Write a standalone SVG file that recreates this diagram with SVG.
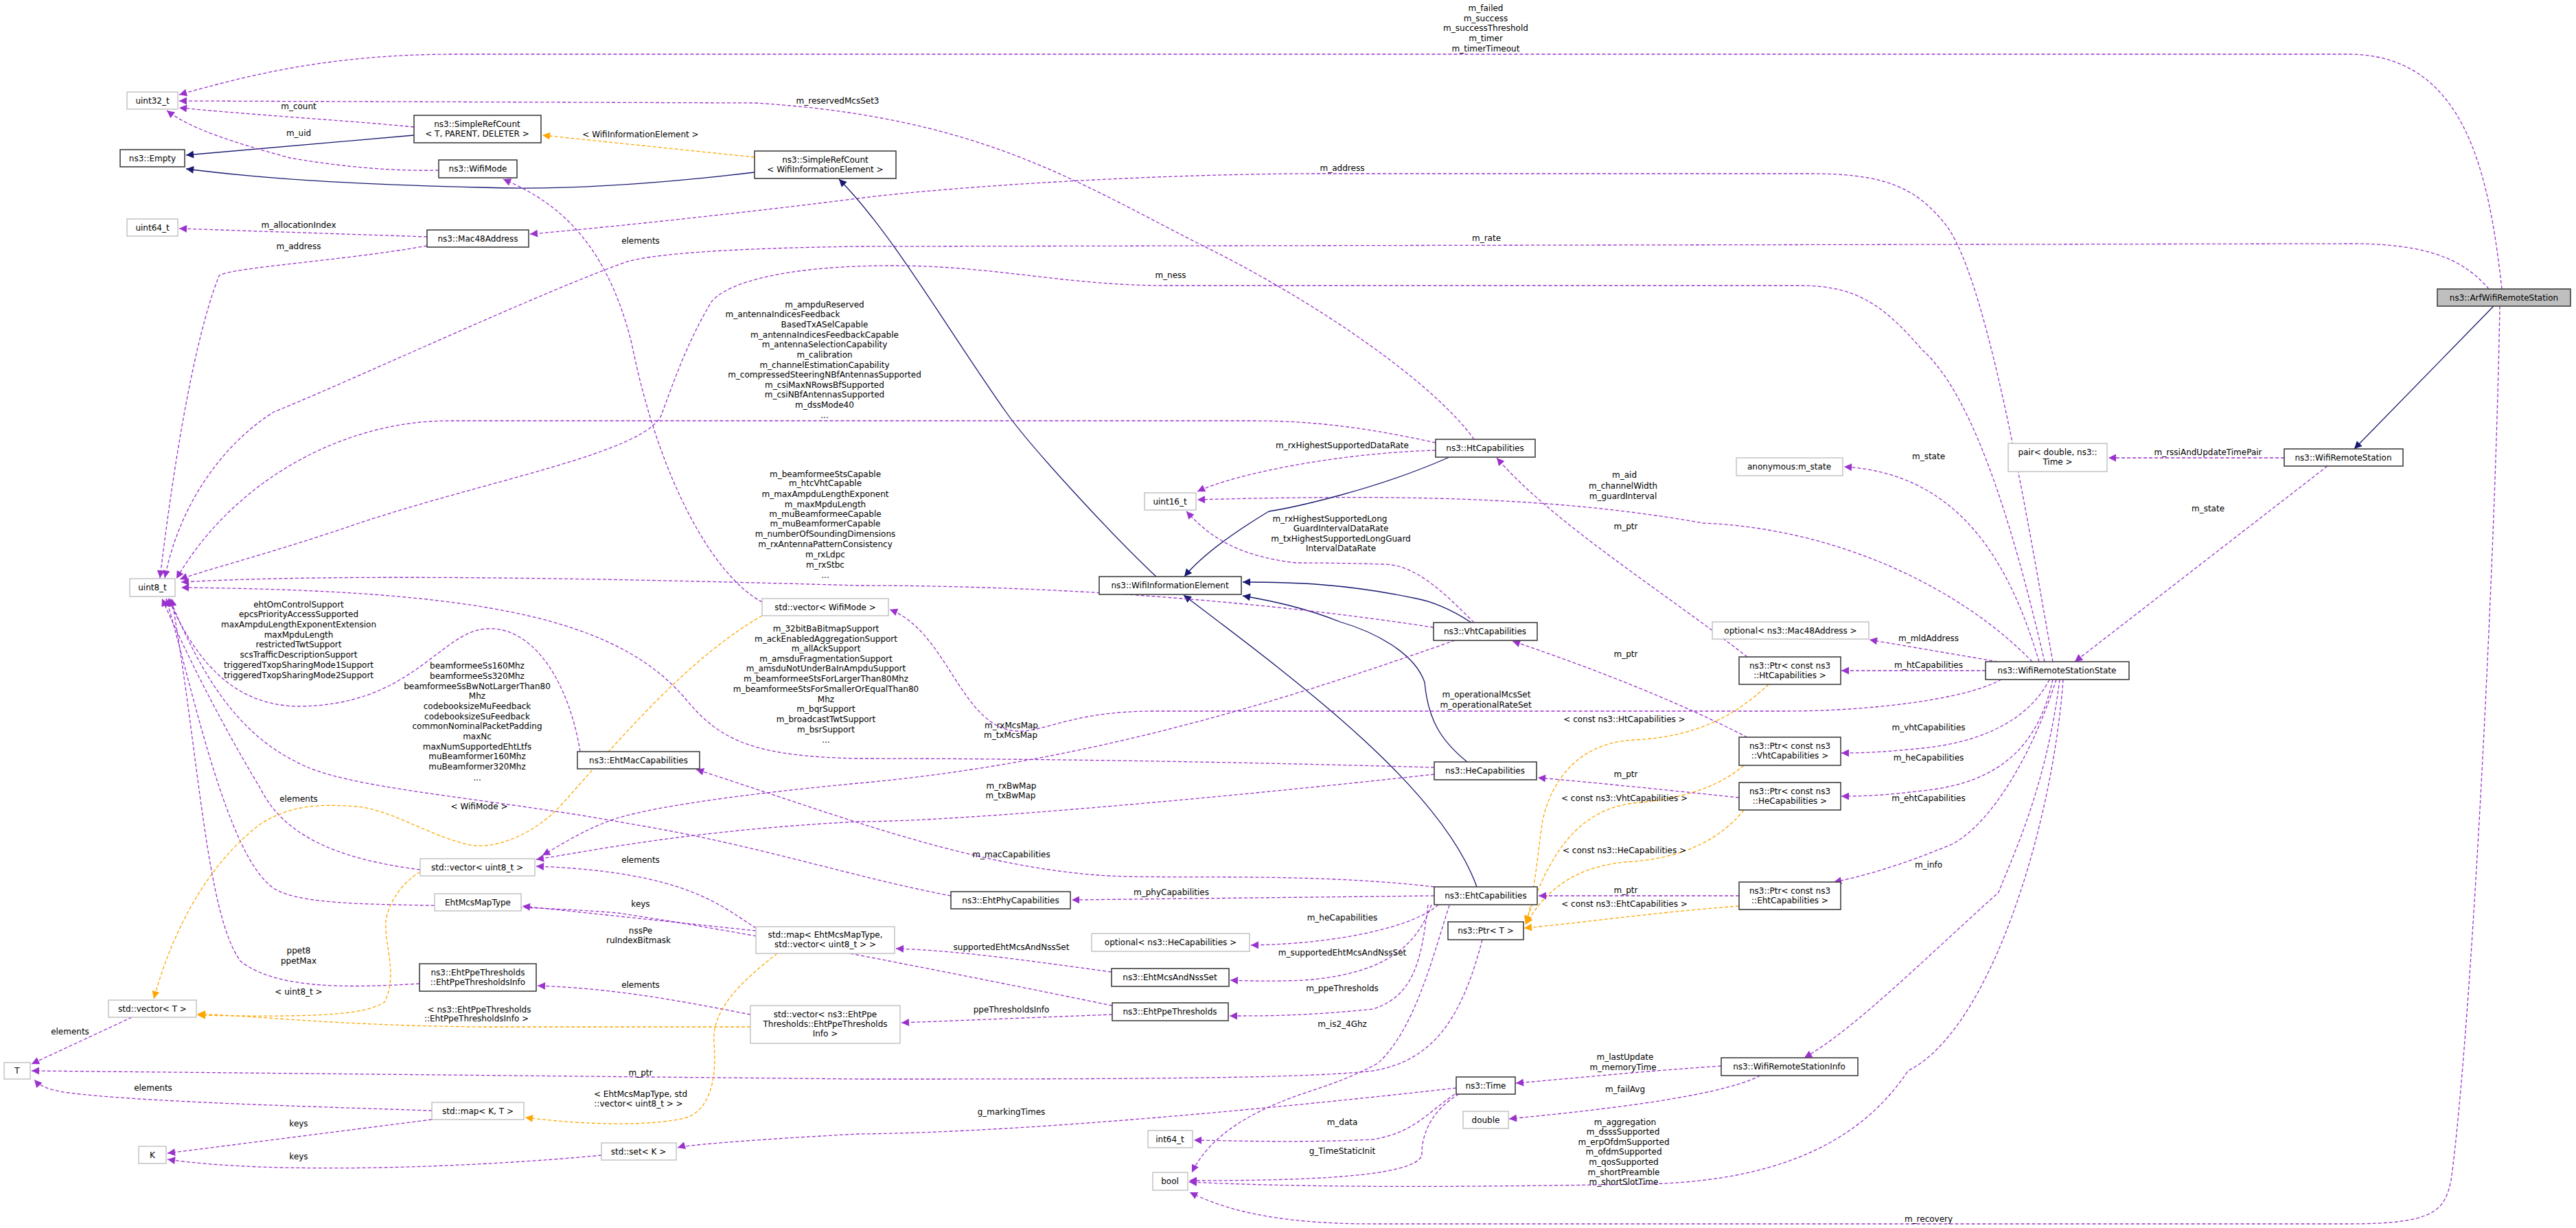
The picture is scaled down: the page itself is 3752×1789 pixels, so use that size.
<svg xmlns="http://www.w3.org/2000/svg" width="3752" height="1789" viewBox="0 0 3752 1789">
<style>
text{font-family:"DejaVu Sans","Liberation Sans",sans-serif;font-size:12px;fill:#000;text-anchor:middle}
.d rect{fill:#fff;stroke:#404040;stroke-width:1.6}
.u rect{fill:#fff;stroke:#bfbfbf;stroke-width:1.4}
.t rect{fill:#bfbfbf;stroke:#404040;stroke-width:1.6}
.e{fill:none;stroke:#9a32cd;stroke-width:1.3;stroke-dasharray:5,3;marker-end:url(#ap)}
.n{fill:none;stroke:#191970;stroke-width:1.3;marker-end:url(#an)}
.o{fill:none;stroke:#ffa500;stroke-width:1.3;stroke-dasharray:5,3;marker-end:url(#ao)}
</style>
<defs>
<marker id="ap" viewBox="0 0 10 10" refX="10" refY="5" markerWidth="13" markerHeight="11" markerUnits="userSpaceOnUse" orient="auto"><path d="M0,0 L10,5 L0,10 z" fill="#9a32cd"/></marker>
<marker id="an" viewBox="0 0 10 10" refX="10" refY="5" markerWidth="13" markerHeight="11" markerUnits="userSpaceOnUse" orient="auto"><path d="M0,0 L10,5 L0,10 z" fill="#191970"/></marker>
<marker id="ao" viewBox="0 0 10 10" refX="10" refY="5" markerWidth="13" markerHeight="11" markerUnits="userSpaceOnUse" orient="auto"><path d="M0,0 L10,5 L0,10 z" fill="#ffa500"/></marker>
</defs>
<rect width="3752" height="1789" fill="#fff"/>
<g id="connectors">
<path class="e" d="M3644,421 C3625,250 3590,79 3420,79 L662,79 C480,79 360,110 261,138"/>
<path class="n" d="M3632,446 L3429,654"/>
<path class="e" d="M3625,421 C3590,380 3540,355 3425,355 L1250,359 C1050,362 960,370 917,380 C800,420 500,560 399,600 C320,650 260,740 240,842"/>
<path class="e" d="M3641,446 C3635,800 3600,1500 3570,1720 C3560,1765 3545,1783 3420,1783 L2000,1783 C1850,1783 1780,1760 1733,1737"/>
<path class="e" d="M3327,667 L3071,667"/>
<path class="e" d="M3390,679 L3022,964"/>
<path class="e" d="M2970,964 C2930,830 2860,690 2686,680"/>
<path class="e" d="M2960,964 C2860,860 2680,770 2480,762 C2300,730 2100,718 1744,728"/>
<path class="e" d="M2990,964 C2960,800 2900,420 2836,330 C2790,270 2740,253 2636,253 L1920,253 C1700,253 1400,270 1250,289 C1100,308 900,330 772,341"/>
<path class="e" d="M2978,964 C2940,800 2880,580 2800,510 C2740,440 2700,416 2620,416 L1700,416 C1550,416 1450,387 1300,387 C1150,387 1060,410 1036,440 C1000,500 980,560 965,600 C950,660 700,700 500,770 C380,810 300,830 262,844"/>
<path class="e" d="M2910,964 L2723,932"/>
<path class="e" d="M2892,977 L2682,977"/>
<path class="e" d="M2915,990 C2860,1020 2720,1036 2600,1036 L1680,1036 C1560,1036 1520,1068 1480,1065 C1400,1060 1380,920 1296,888"/>
<path class="e" d="M2985,990 C2960,1040 2900,1080 2800,1090 C2750,1095 2720,1097 2682,1097"/>
<path class="e" d="M2990,990 C2970,1080 2920,1140 2800,1152 C2750,1158 2720,1160 2682,1160"/>
<path class="e" d="M2995,990 C2960,1100 2900,1200 2843,1230 C2770,1260 2720,1275 2671,1285"/>
<path class="e" d="M3000,990 C2980,1150 2930,1250 2911,1300 C2800,1400 2700,1500 2628,1541"/>
<path class="e" d="M3005,990 C2990,1200 2900,1500 2779,1560 C2700,1680 2560,1721 2400,1725 C2100,1730 1900,1730 1732,1722"/>
<path class="e" d="M2507,1553 C2400,1560 2300,1570 2208,1578"/>
<path class="e" d="M2564,1567 C2500,1600 2300,1620 2198,1630"/>
<path class="e" d="M2545,957 C2420,860 2260,760 2180,667"/>
<path class="o" d="M2576,997 C2520,1050 2460,1074 2380,1078 C2290,1082 2255,1150 2246,1200 C2238,1260 2232,1320 2222,1345"/>
<path class="e" d="M2545,1074 C2420,1010 2280,960 2203,934"/>
<path class="o" d="M2540,1115 C2500,1150 2440,1165 2380,1170 C2290,1180 2250,1260 2222,1346"/>
<path class="e" d="M2533,1162 C2420,1150 2320,1140 2240,1133"/>
<path class="o" d="M2540,1180 C2500,1230 2440,1250 2380,1255 C2290,1260 2250,1300 2222,1347"/>
<path class="e" d="M2533,1305 L2241,1305"/>
<path class="o" d="M2533,1320 C2400,1330 2300,1345 2220,1352"/>
<path class="e" d="M2159,1369 C2130,1480 2090,1545 2000,1560 C1900,1572 1600,1572 1250,1572 L46,1560"/>
<path class="n" d="M2111,666 C2000,715 1880,740 1848,745 C1790,780 1750,810 1725,840"/>
<path class="n" d="M2143,907 C2110,885 2080,875 2063,872 C1960,850 1880,848 1810,848"/>
<path class="n" d="M2137,1110 C2100,1080 2080,1050 2075,994 C2060,950 2000,920 1952,906 C1900,885 1850,875 1810,868"/>
<path class="n" d="M2151,1292 C2100,1150 1900,1000 1724,867"/>
<path class="n" d="M1684,840 C1620,780 1500,650 1465,600 C1380,480 1300,340 1222,261"/>
<path class="o" d="M1099,229 L790,197"/>
<path class="n" d="M1099,251 C900,275 780,276 700,273 C500,268 380,260 271,246"/>
<path class="n" d="M603,197 L271,226"/>
<path class="e" d="M603,185 C500,175 400,170 261,157"/>
<path class="e" d="M639,248 C560,250 480,240 422,230 C350,210 280,190 243,161"/>
<path class="e" d="M2147,640 C2090,560 1920,440 1744,354 C1560,260 1420,170 1100,150 L261,147"/>
<path class="e" d="M2091,645 C2000,625 1920,613 1824,613 L654,613 C500,613 340,700 257,843"/>
<path class="e" d="M2091,656 C1950,660 1800,690 1744,716"/>
<path class="e" d="M2147,907 C2100,860 2060,822 2015,822 C1950,820 1900,820 1888,820 C1800,810 1760,780 1728,745"/>
<path class="e" d="M2088,914 C1800,870 1500,853 1250,853 C900,843 500,835 264,848"/>
<path class="e" d="M2119,933 C1900,1010 1600,1110 1250,1141 C1050,1160 920,1180 877,1200 C840,1215 810,1235 790,1246"/>
<path class="e" d="M2089,1118 C1800,1110 1500,1105 1250,1105 C1100,1102 1050,1080 1000,1020 C900,900 700,860 264,856"/>
<path class="e" d="M2089,1128 C1800,1160 1400,1197 1250,1197 C1000,1210 860,1240 781,1252"/>
<path class="e" d="M2089,1292 C1900,1270 1700,1282 1600,1275 C1400,1260 1200,1180 1014,1121"/>
<path class="e" d="M2089,1305 L1561,1311"/>
<path class="e" d="M2095,1318 C2060,1350 1950,1375 1822,1377"/>
<path class="e" d="M2085,1318 C2060,1390 2000,1420 1900,1428 C1850,1430 1820,1429 1792,1428"/>
<path class="e" d="M2080,1318 C2070,1400 2060,1450 2000,1470 C1900,1480 1850,1480 1791,1480"/>
<path class="e" d="M2111,1319 C2085,1400 2060,1500 2007,1549 C1950,1580 1900,1590 1864,1606 C1780,1640 1750,1680 1736,1708"/>
<path class="e" d="M1619,1416 C1500,1400 1400,1385 1305,1382"/>
<path class="e" d="M1620,1465 C1400,1420 1100,1360 900,1330 C650,1310 460,1330 400,1295 C330,1250 280,1000 242,872"/>
<path class="e" d="M1620,1478 L1313,1490"/>
<path class="e" d="M1093,1478 C1000,1460 900,1440 783,1436"/>
<path class="o" d="M1093,1496 L700,1496 C500,1494 400,1482 288,1477"/>
<path class="e" d="M611,1433 C500,1440 400,1440 350,1400 C300,1330 290,1100 250,872"/>
<path class="e" d="M845,1095 C830,1000 780,912 709,916 C640,920 600,1030 430,1029 C330,1025 280,950 245,872"/>
<path class="e" d="M1385,1305 C1250,1280 1100,1230 917,1200 C700,1160 500,1150 430,1109 C330,1060 280,950 247,872"/>
<path class="e" d="M612,1267 C520,1255 420,1230 380,1150 C320,1050 270,950 236,872"/>
<path class="o" d="M612,1270 C580,1290 565,1320 562,1342 C560,1380 580,1420 560,1460 C530,1480 450,1482 288,1479"/>
<path class="o" d="M1110,897 C1000,960 900,1080 820,1170 C780,1215 720,1240 680,1230 C620,1215 570,1180 520,1175 C460,1170 420,1175 380,1200 C300,1260 250,1360 224,1455"/>
<path class="e" d="M1101,1352 C1050,1320 1000,1270 781,1262"/>
<path class="e" d="M1101,1356 L761,1320"/>
<path class="o" d="M1132,1389 C1080,1430 1036,1470 1040,1520 C1045,1580 1030,1620 997,1629 C950,1640 860,1640 765,1628"/>
<path class="e" d="M192,1482 L46,1550"/>
<path class="e" d="M629,1618 C450,1612 200,1605 100,1592 C70,1588 58,1582 50,1573"/>
<path class="e" d="M629,1631 L244,1680"/>
<path class="e" d="M876,1683 C700,1700 400,1712 244,1689"/>
<path class="e" d="M2121,1585 C1900,1610 1500,1650 1250,1652 C1100,1660 1000,1668 987,1672"/>
<path class="e" d="M2119,1594 C2080,1620 2060,1650 2000,1660 C1900,1665 1800,1662 1739,1661"/>
<path class="e" d="M2125,1594 C2080,1620 2070,1660 2071,1683 C2060,1715 1900,1720 1732,1720"/>
<path class="e" d="M1110,877 C1040,840 960,700 920,500 C880,340 800,290 733,261"/>
<path class="e" d="M622,345 L261,333"/>
<path class="e" d="M622,358 C500,380 330,390 319,402 C280,500 250,700 233,842"/>
</g>
<g id="labels">
<text x="2164" y="16">m_failed</text><text x="2164" y="31">m_success</text><text x="2164" y="45">m_successThreshold</text><text x="2164" y="60">m_timer</text><text x="2164" y="75">m_timerTimeout</text>
<text x="2165" y="351">m_rate</text>
<text x="2809" y="1780">m_recovery</text>
<text x="3216" y="663">m_rssiAndUpdateTimePair</text>
<text x="3216" y="745">m_state</text>
<text x="2809" y="669">m_state</text>
<text x="2366" y="696">m_aid</text><text x="2364" y="712">m_channelWidth</text><text x="2364" y="727">m_guardInterval</text>
<text x="1955" y="249">m_address</text>
<text x="1705" y="405">m_ness</text>
<text x="2809" y="934">m_mldAddress</text>
<text x="2809" y="973">m_htCapabilities</text>
<text x="2165" y="1016">m_operationalMcsSet</text><text x="2164" y="1031">m_operationalRateSet</text>
<text x="2809" y="1064">m_vhtCapabilities</text>
<text x="2809" y="1108">m_heCapabilities</text>
<text x="2809" y="1167">m_ehtCapabilities</text>
<text x="2809" y="1264">m_info</text>
<text x="2367" y="1639">m_aggregation</text><text x="2364" y="1653">m_dsssSupported</text><text x="2365" y="1668">m_erpOfdmSupported</text><text x="2365" y="1682">m_ofdmSupported</text><text x="2365" y="1697">m_qosSupported</text><text x="2365" y="1712">m_shortPreamble</text><text x="2365" y="1726">m_shortSlotTime</text>
<text x="2367" y="1544">m_lastUpdate</text><text x="2364" y="1559">m_memoryTime</text>
<text x="2367" y="1591">m_failAvg</text>
<text x="2368" y="771">m_ptr</text>
<text x="2366" y="1052">&lt; const ns3::HtCapabilities &gt;</text>
<text x="2368" y="957">m_ptr</text>
<text x="2366" y="1167">&lt; const ns3::VhtCapabilities &gt;</text>
<text x="2368" y="1132">m_ptr</text>
<text x="2366" y="1243">&lt; const ns3::HeCapabilities &gt;</text>
<text x="2368" y="1301">m_ptr</text>
<text x="2366" y="1321">&lt; const ns3::EhtCapabilities &gt;</text>
<text x="933" y="1567">m_ptr</text>
<text x="933" y="200">&lt; WifiInformationElement &gt;</text>
<text x="435" y="159">m_count</text>
<text x="435" y="198">m_uid</text>
<text x="1220" y="151">m_reservedMcsSet3</text>
<text x="1201" y="448">m_ampduReserved</text><text x="1140" y="462">m_antennaIndicesFeedback</text><text x="1201" y="477">BasedTxASelCapable</text><text x="1201" y="492">m_antennaIndicesFeedbackCapable</text><text x="1201" y="506">m_antennaSelectionCapability</text><text x="1201" y="521">m_calibration</text><text x="1201" y="536">m_channelEstimationCapability</text><text x="1201" y="550">m_compressedSteeringNBfAntennasSupported</text><text x="1201" y="565">m_csiMaxNRowsBfSupported</text><text x="1201" y="579">m_csiNBfAntennasSupported</text><text x="1201" y="594">m_dssMode40</text><text x="1201" y="609">...</text>
<text x="1955" y="653">m_rxHighestSupportedDataRate</text>
<text x="1937" y="760">m_rxHighestSupportedLong</text><text x="1953" y="774">GuardIntervalDataRate</text><text x="1953" y="789">m_txHighestSupportedLongGuard</text><text x="1953" y="803">IntervalDataRate</text>
<text x="1202" y="695">m_beamformeeStsCapable</text><text x="1202" y="708">m_htcVhtCapable</text><text x="1202" y="724">m_maxAmpduLengthExponent</text><text x="1202" y="739">m_maxMpduLength</text><text x="1202" y="753">m_muBeamformeeCapable</text><text x="1202" y="767">m_muBeamformerCapable</text><text x="1202" y="782">m_numberOfSoundingDimensions</text><text x="1202" y="797">m_rxAntennaPatternConsistency</text><text x="1202" y="812">m_rxLdpc</text><text x="1202" y="827">m_rxStbc</text><text x="1202" y="842">...</text>
<text x="1473" y="1061">m_rxMcsMap</text><text x="1472" y="1075">m_txMcsMap</text>
<text x="1203" y="920">m_32bitBaBitmapSupport</text><text x="1203" y="935">m_ackEnabledAggregationSupport</text><text x="1203" y="949">m_allAckSupport</text><text x="1203" y="964">m_amsduFragmentationSupport</text><text x="1203" y="978">m_amsduNotUnderBaInAmpduSupport</text><text x="1203" y="993">m_beamformeeStsForLargerThan80Mhz</text><text x="1203" y="1008">m_beamformeeStsForSmallerOrEqualThan80</text><text x="1203" y="1023">Mhz</text><text x="1203" y="1037">m_bqrSupport</text><text x="1203" y="1052">m_broadcastTwtSupport</text><text x="1203" y="1067">m_bsrSupport</text><text x="1203" y="1082">...</text>
<text x="1473" y="1149">m_rxBwMap</text><text x="1472" y="1163">m_txBwMap</text>
<text x="1473" y="1249">m_macCapabilities</text>
<text x="1706" y="1304">m_phyCapabilities</text>
<text x="1955" y="1341">m_heCapabilities</text>
<text x="1955" y="1392">m_supportedEhtMcsAndNssSet</text>
<text x="1955" y="1444">m_ppeThresholds</text>
<text x="1955" y="1496">m_is2_4Ghz</text>
<text x="1473" y="1384">supportedEhtMcsAndNssSet</text>
<text x="933" y="1360">nssPe</text><text x="930" y="1374">ruIndexBitmask</text>
<text x="1473" y="1475">ppeThresholdsInfo</text>
<text x="933" y="1439">elements</text>
<text x="698" y="1475">&lt; ns3::EhtPpeThresholds</text><text x="694" y="1488">::EhtPpeThresholdsInfo &gt;</text>
<text x="435" y="1389">ppet8</text><text x="435" y="1404">ppetMax</text>
<text x="435" y="885">ehtOmControlSupport</text><text x="435" y="899">epcsPriorityAccessSupported</text><text x="435" y="914">maxAmpduLengthExponentExtension</text><text x="435" y="929">maxMpduLength</text><text x="435" y="943">restrictedTwtSupport</text><text x="435" y="958">scsTrafficDescriptionSupport</text><text x="435" y="973">triggeredTxopSharingMode1Support</text><text x="435" y="988">triggeredTxopSharingMode2Support</text>
<text x="695" y="974">beamformeeSs160Mhz</text><text x="695" y="989">beamformeeSs320Mhz</text><text x="695" y="1004">beamformeeSsBwNotLargerThan80</text><text x="695" y="1018">Mhz</text><text x="695" y="1033">codebooksizeMuFeedback</text><text x="695" y="1048">codebooksizeSuFeedback</text><text x="695" y="1062">commonNominalPacketPadding</text><text x="695" y="1077">maxNc</text><text x="695" y="1092">maxNumSupportedEhtLtfs</text><text x="695" y="1106">muBeamformer160Mhz</text><text x="695" y="1121">muBeamformer320Mhz</text><text x="695" y="1137">...</text>
<text x="435" y="1168">elements</text>
<text x="698" y="1179">&lt; WifiMode &gt;</text>
<text x="435" y="1449">&lt; uint8_t &gt;</text>
<text x="933" y="1257">elements</text>
<text x="933" y="1321">keys</text>
<text x="933" y="1598">&lt; EhtMcsMapType, std</text><text x="930" y="1612">::vector&lt; uint8_t &gt; &gt;</text>
<text x="102" y="1507">elements</text>
<text x="223" y="1589">elements</text>
<text x="435" y="1641">keys</text>
<text x="435" y="1689">keys</text>
<text x="1473" y="1624">g_markingTimes</text>
<text x="1955" y="1639">m_data</text>
<text x="1955" y="1681">g_TimeStaticInit</text>
<text x="933" y="355">elements</text>
<text x="435" y="332">m_allocationIndex</text>
<text x="435" y="363">m_address</text>
</g>
<g id="arf" class="t"><rect x="3550" y="421" width="194" height="25"/><text x="3647" y="438">ns3::ArfWifiRemoteStation</text></g>
<g id="wrs" class="d"><rect x="3327" y="654" width="173" height="25"/><text x="3413" y="671">ns3::WifiRemoteStation</text></g>
<g id="pair" class="u"><rect x="2925" y="646" width="144" height="41"/><text x="2997" y="663">pair&lt; double, ns3::</text><text x="2997" y="677">Time &gt;</text></g>
<g id="anon" class="u"><rect x="2529" y="667" width="155" height="26"/><text x="2606" y="684">anonymous:m_state</text></g>
<g id="wrss" class="d"><rect x="2892" y="964" width="209" height="26"/><text x="2996" y="981">ns3::WifiRemoteStationState</text></g>
<g id="optmac" class="u"><rect x="2494" y="906" width="228" height="25"/><text x="2608" y="923">optional&lt; ns3::Mac48Address &gt;</text></g>
<g id="ptrht" class="d"><rect x="2533" y="957" width="148" height="40"/><text x="2607" y="974">ns3::Ptr&lt; const ns3</text><text x="2607" y="988">::HtCapabilities &gt;</text></g>
<g id="ptrvht" class="d"><rect x="2533" y="1074" width="148" height="41"/><text x="2607" y="1091">ns3::Ptr&lt; const ns3</text><text x="2607" y="1105">::VhtCapabilities &gt;</text></g>
<g id="ptrhe" class="d"><rect x="2533" y="1140" width="148" height="40"/><text x="2607" y="1157">ns3::Ptr&lt; const ns3</text><text x="2607" y="1171">::HeCapabilities &gt;</text></g>
<g id="ptreht" class="d"><rect x="2533" y="1285" width="148" height="40"/><text x="2607" y="1302">ns3::Ptr&lt; const ns3</text><text x="2607" y="1316">::EhtCapabilities &gt;</text></g>
<g id="wrsi" class="d"><rect x="2507" y="1541" width="199" height="26"/><text x="2606" y="1558">ns3::WifiRemoteStationInfo</text></g>
<g id="ht" class="d"><rect x="2091" y="640" width="145" height="26"/><text x="2163" y="657">ns3::HtCapabilities</text></g>
<g id="vht" class="d"><rect x="2088" y="907" width="151" height="26"/><text x="2163" y="924">ns3::VhtCapabilities</text></g>
<g id="he" class="d"><rect x="2089" y="1110" width="149" height="26"/><text x="2163" y="1127">ns3::HeCapabilities</text></g>
<g id="eht" class="d"><rect x="2089" y="1292" width="150" height="26"/><text x="2164" y="1309">ns3::EhtCapabilities</text></g>
<g id="ptrt" class="d"><rect x="2109" y="1343" width="110" height="26"/><text x="2164" y="1360">ns3::Ptr&lt; T &gt;</text></g>
<g id="time" class="d"><rect x="2121" y="1569" width="86" height="25"/><text x="2164" y="1586">ns3::Time</text></g>
<g id="double" class="u"><rect x="2131" y="1619" width="66" height="25"/><text x="2164" y="1636">double</text></g>
<g id="int64" class="u"><rect x="1672" y="1647" width="65" height="25"/><text x="1704" y="1664">int64_t</text></g>
<g id="bool" class="u"><rect x="1679" y="1708" width="51" height="26"/><text x="1704" y="1725">bool</text></g>
<g id="uint16" class="u"><rect x="1667" y="718" width="75" height="25"/><text x="1704" y="735">uint16_t</text></g>
<g id="wie" class="d"><rect x="1601" y="840" width="207" height="26"/><text x="1704" y="857">ns3::WifiInformationElement</text></g>
<g id="ehtphy" class="d"><rect x="1385" y="1299" width="174" height="25"/><text x="1472" y="1316">ns3::EhtPhyCapabilities</text></g>
<g id="opthe" class="u"><rect x="1590" y="1360" width="230" height="26"/><text x="1705" y="1377">optional&lt; ns3::HeCapabilities &gt;</text></g>
<g id="ehtmcs" class="d"><rect x="1619" y="1411" width="171" height="26"/><text x="1704" y="1428">ns3::EhtMcsAndNssSet</text></g>
<g id="ehtppe" class="d"><rect x="1620" y="1461" width="169" height="26"/><text x="1704" y="1478">ns3::EhtPpeThresholds</text></g>
<g id="srcwie" class="d"><rect x="1099" y="220" width="206" height="40"/><text x="1202" y="237">ns3::SimpleRefCount</text><text x="1202" y="251">&lt; WifiInformationElement &gt;</text></g>
<g id="srct" class="d"><rect x="603" y="168" width="185" height="40"/><text x="695" y="185">ns3::SimpleRefCount</text><text x="695" y="199">&lt; T, PARENT, DELETER &gt;</text></g>
<g id="empty" class="d"><rect x="175" y="218" width="94" height="25"/><text x="222" y="235">ns3::Empty</text></g>
<g id="wifimode" class="d"><rect x="639" y="233" width="114" height="26"/><text x="696" y="250">ns3::WifiMode</text></g>
<g id="uint32" class="u"><rect x="185" y="134" width="74" height="25"/><text x="222" y="151">uint32_t</text></g>
<g id="uint64" class="u"><rect x="185" y="319" width="74" height="25"/><text x="222" y="336">uint64_t</text></g>
<g id="mac" class="d"><rect x="622" y="335" width="148" height="25"/><text x="696" y="352">ns3::Mac48Address</text></g>
<g id="uint8" class="u"><rect x="189" y="843" width="66" height="26"/><text x="222" y="860">uint8_t</text></g>
<g id="vecwm" class="u"><rect x="1110" y="872" width="184" height="25"/><text x="1202" y="889">std::vector&lt; WifiMode &gt;</text></g>
<g id="ehtmac" class="d"><rect x="841" y="1095" width="178" height="25"/><text x="930" y="1112">ns3::EhtMacCapabilities</text></g>
<g id="vecu8" class="u"><rect x="612" y="1251" width="167" height="25"/><text x="695" y="1268">std::vector&lt; uint8_t &gt;</text></g>
<g id="mcsmaptype" class="u"><rect x="633" y="1302" width="126" height="25"/><text x="696" y="1319">EhtMcsMapType</text></g>
<g id="mapmcs" class="u"><rect x="1101" y="1350" width="202" height="39"/><text x="1202" y="1366">std::map&lt; EhtMcsMapType,</text><text x="1202" y="1380">std::vector&lt; uint8_t &gt; &gt;</text></g>
<g id="ppeinfo" class="d"><rect x="611" y="1404" width="170" height="40"/><text x="696" y="1421">ns3::EhtPpeThresholds</text><text x="696" y="1435">::EhtPpeThresholdsInfo</text></g>
<g id="vect" class="u"><rect x="158" y="1457" width="128" height="25"/><text x="222" y="1474">std::vector&lt; T &gt;</text></g>
<g id="vecppe" class="u"><rect x="1093" y="1465" width="218" height="55"/><text x="1202" y="1482">std::vector&lt; ns3::EhtPpe</text><text x="1202" y="1496">Thresholds::EhtPpeThresholds</text><text x="1202" y="1510">Info &gt;</text></g>
<g id="T" class="u"><rect x="6" y="1548" width="38" height="24"/><text x="25" y="1564">T</text></g>
<g id="mapkt" class="u"><rect x="629" y="1606" width="134" height="25"/><text x="696" y="1623">std::map&lt; K, T &gt;</text></g>
<g id="K" class="u"><rect x="202" y="1670" width="40" height="25"/><text x="222" y="1687">K</text></g>
<g id="setk" class="u"><rect x="876" y="1665" width="109" height="25"/><text x="930" y="1682">std::set&lt; K &gt;</text></g>
</svg>
